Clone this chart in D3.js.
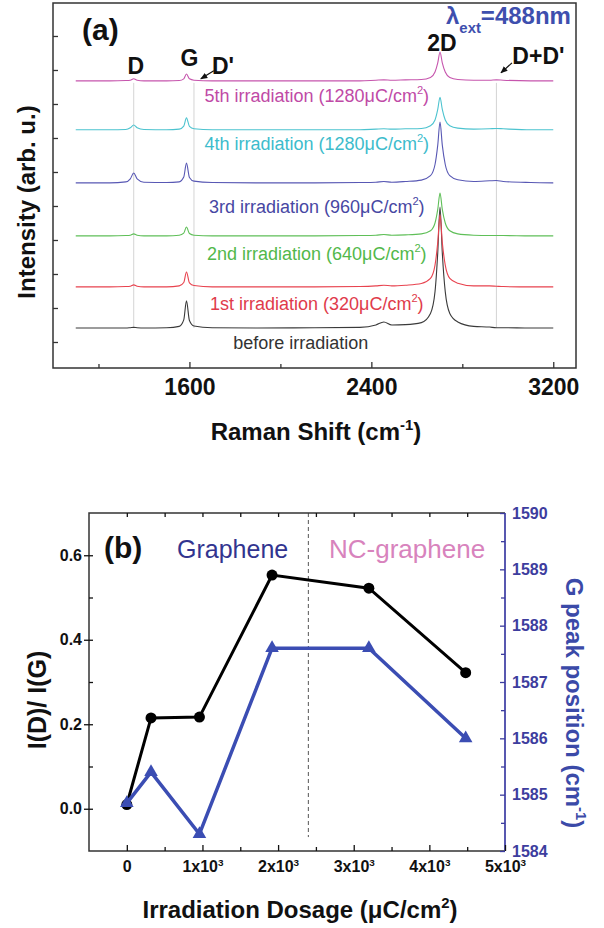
<!DOCTYPE html>
<html>
<head>
<meta charset="utf-8">
<script src="https://cdn.jsdelivr.net/npm/d3@7"></script>
<style>
  body { margin: 0; background: #fff; }
  svg text { font-family: "Liberation Sans", Arial, sans-serif; }
</style>
</head>
<body>
<div id="chart"></div>
<script>
// ---- panel (a): Raman spectra (arb. units) ----
const ramanShift = [1100, 1250, 1320, 1340, 1355, 1370, 1400, 1500, 1555, 1575, 1587, 1600, 1620, 1700,
    1900, 2150, 2350, 2420, 2455, 2490, 2550, 2620, 2660, 2680, 2692, 2702, 2712, 2725, 2745, 2780,
    2850, 2920, 2950, 2980, 3100, 3200];

const specBefore = [0.41, 0.41, 0.41, 0.42, 0.43, 0.42, 0.41, 0.42, 0.46, 0.65, 1.21, 0.63, 0.47, 0.42,
    0.41, 0.42, 0.43, 0.50, 0.59, 0.50, 0.51, 0.57, 0.84, 1.48, 2.62, 3.97, 2.62, 1.48, 0.84, 0.59,
    0.46, 0.44, 0.42, 0.42, 0.41, 0.41];
const spec1st = [1.62, 1.62, 1.63, 1.64, 1.68, 1.64, 1.62, 1.62, 1.65, 1.75, 2.06, 1.74, 1.66, 1.62,
    1.62, 1.62, 1.63, 1.65, 1.67, 1.65, 1.67, 1.72, 1.87, 2.26, 2.93, 3.74, 2.93, 2.26, 1.87, 1.73,
    1.65, 1.65, 1.64, 1.63, 1.62, 1.62];
const spec2nd = [3.12, 3.12, 3.13, 3.14, 3.18, 3.14, 3.12, 3.12, 3.14, 3.20, 3.38, 3.19, 3.14, 3.12,
    3.12, 3.12, 3.13, 3.14, 3.16, 3.14, 3.15, 3.18, 3.27, 3.50, 3.90, 4.38, 3.90, 3.50, 3.27, 3.18,
    3.14, 3.13, 3.13, 3.13, 3.12, 3.12];
const spec3rd = [4.68, 4.68, 4.71, 4.80, 4.97, 4.80, 4.70, 4.69, 4.71, 4.85, 5.26, 4.84, 4.73, 4.69,
    4.68, 4.68, 4.69, 4.70, 4.72, 4.70, 4.72, 4.76, 4.89, 5.22, 5.79, 6.47, 5.79, 5.22, 4.89, 4.77,
    4.72, 4.74, 4.75, 4.72, 4.69, 4.68];
const spec4th = [6.24, 6.24, 6.25, 6.30, 6.38, 6.30, 6.25, 6.24, 6.26, 6.35, 6.59, 6.34, 6.27, 6.24,
    6.24, 6.24, 6.24, 6.26, 6.27, 6.26, 6.27, 6.28, 6.36, 6.53, 6.84, 7.20, 6.84, 6.53, 6.36, 6.29,
    6.26, 6.27, 6.28, 6.27, 6.24, 6.24];
const spec5th = [7.68, 7.68, 7.69, 7.70, 7.74, 7.70, 7.68, 7.68, 7.69, 7.74, 7.88, 7.74, 7.70, 7.68,
    7.68, 7.68, 7.68, 7.70, 7.71, 7.70, 7.71, 7.72, 7.78, 7.94, 8.21, 8.53, 8.21, 7.94, 7.78, 7.72,
    7.70, 7.70, 7.71, 7.70, 7.68, 7.68];

const spectra = [specBefore, spec1st, spec2nd, spec3rd, spec4th, spec5th];
const spectrumNames = ["before irradiation", "1st irradiation (320", "2nd irradiation (640",
    "3rd irradiation (960", "4th irradiation (1280", "5th irradiation (1280"];

const peakNames = ["D", "G", "D'", "2D", "D+D'"];
const peakShifts = [1355, 1587, 1620, 2702, 2950];
const guideShifts = [1355, 1620, 2950];

const xTicksA = [1600, 2400, 3200];
const xMinorA = [1200, 2000, 2800];
const yTicksA = [0, 1, 2, 3, 4, 5, 6, 7, 8, 9];

// ---- panel (b): ratio and G peak position vs dosage ----
const dosage = [0, 320, 960, 1920, 3200, 4480];
const ratioDG = [0.01, 0.215, 0.217, 0.553, 0.522, 0.322];
const gPeak = [1584.85, 1585.4, 1584.3, 1587.6, 1587.6, 1586.0];
const boundaryDose = 2400;

const xTicksB = [0, 1000, 2000, 3000, 4000, 5000];
const xMinorB = [500, 1500, 2500, 3500, 4500];
const yTicksB = [0.0, 0.2, 0.4, 0.6];
const yMinorB = [0.0, 0.1, 0.2, 0.3, 0.4, 0.5, 0.6];
const gTicks = [1584, 1585, 1586, 1587, 1588, 1589, 1590];
const gMinor = [1584.5, 1585.5, 1586.5, 1587.5, 1588.5, 1589.5];

// ---------------------------------------------------------------------------
const svg = d3.select("#chart").append("svg")
    .attr("width", 604)
    .attr("height", 928);

// adds tspans, parts: [text, "sup" | "sub" | null]
function rich(textSel, parts, size) {
    let shift = 0;
    parts.forEach(([t, kind]) => {
        const span = textSel.append("tspan").text(t);
        let target = 0;
        if (kind === "sup") target = -size * 0.42;
        if (kind === "sub") target = size * 0.38;
        if (target - shift !== 0) span.attr("dy", target - shift);
        if (kind) span.attr("font-size", size * 0.62);
        shift = target;
    });
    return textSel;
}

// ================= panel (a) =================
const xA = d3.scaleLinear().domain([1000, 3300]).range([53, 576]);
const yA = d3.scaleLinear().domain([-0.765, 9.97]).range([368, 3]);

const gA = svg.append("g");

// faint guide lines at D, D', D+D'
gA.selectAll(".guide")
    .data(guideShifts)
    .enter().append("line")
    .attr("x1", d => xA(d)).attr("x2", d => xA(d))
    .attr("y1", yA(spec5th[0]) + 2)
    .attr("y2", yA(specBefore[0]))
    .attr("stroke", "#d4d4d4")
    .attr("stroke-width", 1);

const specColors = ["#3a3a3a", "#e8434f", "#5fbf58", "#5858b4", "#4cc3cf", "#c655ad"];
const labelColors = ["#333333", "#e03b4b", "#52b84b", "#4747a3", "#3dbccc", "#c04aa6"];
const labelOffset = [21, 23, 24, 30, 20, 21];

const specLine = d3.line()
    .x((d, i) => xA(ramanShift[i]))
    .y(d => yA(d))
    .curve(d3.curveMonotoneX);

gA.selectAll(".spec")
    .data(spectra)
    .enter().append("path")
    .attr("d", specLine)
    .attr("fill", "none")
    .attr("stroke", (d, i) => specColors[i])
    .attr("stroke-width", 1.1);

// spectrum labels
spectra.forEach((s, i) => {
    const t = gA.append("text")
        .attr("x", i === 0 ? xA(2090) : xA(2160))
        .attr("y", yA(s[0]) + labelOffset[i])
        .attr("text-anchor", "middle")
        .attr("font-size", 18)
        .attr("fill", labelColors[i]);
    if (i === 0) t.text(spectrumNames[i]);
    else rich(t, [[spectrumNames[i] + "\u03bcC/cm", null], ["2", "sup"], [")", null]], 18);
});

// peak labels
const peakLabelY = [yA(spec5th[0]) - 7, yA(spec5th[10]) - 8, yA(spec5th[0]) - 7, yA(spec5th[25]) - 1, yA(spec5th[0]) - 17];
const peakLabelDx = [2, 3, 18, 2, 42];
peakNames.forEach((p, i) => {
    gA.append("text")
        .attr("x", xA(peakShifts[i]) + peakLabelDx[i])
        .attr("y", peakLabelY[i])
        .attr("text-anchor", i === 2 ? "start" : "middle")
        .attr("font-size", 23)
        .attr("font-weight", "bold")
        .attr("fill", "#111")
        .text(p);
});

// small arrows for D' and D+D'
svg.append("defs").append("marker")
    .attr("id", "arrow")
    .attr("viewBox", "0 0 10 10")
    .attr("refX", 9).attr("refY", 5)
    .attr("markerWidth", 6).attr("markerHeight", 6)
    .attr("orient", "auto")
    .append("path")
    .attr("d", "M0,1 L10,5 L0,9 Z")
    .attr("fill", "#111");

const arrows = [
    { x: xA(1650), y: yA(spec5th[0]) - 2, dx: 13, dy: -8 },
    { x: xA(2970), y: yA(spec5th[0]) - 8, dx: 11, dy: -10 }
];
gA.selectAll(".arr")
    .data(arrows)
    .enter().append("line")
    .attr("x1", d => d.x + d.dx).attr("y1", d => d.y + d.dy)
    .attr("x2", d => d.x).attr("y2", d => d.y)
    .attr("stroke", "#111")
    .attr("stroke-width", 1.2)
    .attr("marker-end", "url(#arrow)");

// frame + axes
gA.append("rect")
    .attr("x", 53).attr("y", 3)
    .attr("width", 523).attr("height", 365)
    .attr("fill", "none")
    .attr("stroke", "#333")
    .attr("stroke-width", 1.5);

const axA = gA.append("g")
    .attr("transform", "translate(0,368)")
    .call(d3.axisBottom(xA).tickValues(xTicksA).tickSizeInner(-6).tickSizeOuter(0).tickPadding(11)
        .tickFormat(d3.format("d")));
axA.select(".domain").remove();
axA.selectAll("text").attr("font-size", 23).attr("font-weight", "bold").attr("fill", "#111")
    .style("font-family", '"Liberation Sans", Arial, sans-serif');
axA.selectAll("line").attr("stroke", "#333").attr("stroke-width", 1.3);

const axAm = gA.append("g")
    .attr("transform", "translate(0,368)")
    .call(d3.axisBottom(xA).tickValues(xMinorA).tickSize(-4).tickFormat(""));
axAm.select(".domain").remove();
axAm.selectAll("line").attr("stroke", "#333").attr("stroke-width", 1.3);

const ayA = gA.append("g")
    .attr("transform", "translate(53,0)")
    .call(d3.axisLeft(yA).tickValues(yTicksA).tickSize(-5).tickFormat(""));
ayA.select(".domain").remove();
ayA.selectAll("line").attr("stroke", "#333").attr("stroke-width", 1.3);

gA.append("text")
    .attr("transform", "translate(35,202) rotate(-90)")
    .attr("text-anchor", "middle")
    .attr("font-size", 24).attr("font-weight", "bold").attr("fill", "#111")
    .text("Intensity (arb. u.)");

rich(gA.append("text")
    .attr("x", 316).attr("y", 440)
    .attr("text-anchor", "middle")
    .attr("font-size", 24).attr("font-weight", "bold").attr("fill", "#111"),
    [["Raman Shift (cm", null], ["-1", "sup"], [")", null]], 24);

gA.append("text")
    .attr("x", 82).attr("y", 40)
    .attr("font-size", 30).attr("font-weight", "bold").attr("fill", "#111")
    .text("(a)");

rich(gA.append("text")
    .attr("x", 446).attr("y", 24)
    .attr("font-size", 24).attr("font-weight", "bold").attr("fill", "#3e4fae"),
    [["\u03bb", null], ["ext", "sub"], ["=488nm", null]], 24);

// ================= panel (b) =================
const xB = d3.scaleLinear().domain([-500, 5000]).range([89, 505]);
const yB = d3.scaleLinear().domain([-0.1, 0.7]).range([851, 513]);
const yG = d3.scaleLinear().domain([1584, 1590]).range([851, 513]);

const gB = svg.append("g");

// boundary graphene / NC-graphene
gB.append("line")
    .attr("x1", xB(boundaryDose)).attr("x2", xB(boundaryDose))
    .attr("y1", yB(0.7)).attr("y2", yB(-0.067))
    .attr("stroke", "#555")
    .attr("stroke-width", 1)
    .attr("stroke-dasharray", "4,3");

gB.append("text")
    .attr("x", 177).attr("y", 558)
    .attr("font-size", 25).attr("fill", "#32348f")
    .text("Graphene");
gB.append("text")
    .attr("x", 329).attr("y", 558)
    .attr("font-size", 26).attr("fill", "#d883bd")
    .text("NC-graphene");
gB.append("text")
    .attr("x", 104).attr("y", 558)
    .attr("font-size", 30).attr("font-weight", "bold").attr("fill", "#111")
    .text("(b)");

// series
const ptsR = dosage.map((d, i) => [d, ratioDG[i]]);
const ptsG = dosage.map((d, i) => [d, gPeak[i]]);

gB.append("path")
    .datum(ptsR)
    .attr("d", d3.line().x(d => xB(d[0])).y(d => yB(d[1])))
    .attr("fill", "none")
    .attr("stroke", "#000")
    .attr("stroke-width", 3);
gB.selectAll(".dot")
    .data(ptsR)
    .enter().append("circle")
    .attr("cx", d => xB(d[0])).attr("cy", d => yB(d[1]))
    .attr("r", 5.5)
    .attr("fill", "#000");

gB.append("path")
    .datum(ptsG)
    .attr("d", d3.line().x(d => xB(d[0])).y(d => yG(d[1])))
    .attr("fill", "none")
    .attr("stroke", "#3b4db3")
    .attr("stroke-width", 3.5);
gB.selectAll(".tri")
    .data(ptsG)
    .enter().append("path")
    .attr("transform", d => `translate(${xB(d[0])},${yG(d[1])})`)
    .attr("d", d3.symbol(d3.symbolTriangle).size(80))
    .attr("fill", "#3b4db3");

// frame
gB.append("path")
    .attr("d", `M${xB(5000)},${yB(0.7)}H${xB(-500)}V${yB(-0.1)}H${xB(5000)}`)
    .attr("fill", "none")
    .attr("stroke", "#333")
    .attr("stroke-width", 1.5);
gB.append("line")
    .attr("x1", xB(5000)).attr("x2", xB(5000))
    .attr("y1", yG(1590)).attr("y2", yG(1584))
    .attr("stroke", "#4646a8")
    .attr("stroke-width", 1.8);

function styleTicks(sel, color) {
    sel.select(".domain").remove();
    sel.selectAll("line").attr("stroke", color).attr("stroke-width", 1.3);
    sel.selectAll("text")
        .attr("font-size", 16).attr("font-weight", "bold").attr("fill", color)
        .style("font-family", '"Liberation Sans", Arial, sans-serif');
}

// bottom axis with 1x10^3 labels
const axB = gB.append("g")
    .attr("transform", `translate(0,${yB(-0.1)})`)
    .call(d3.axisBottom(xB).tickValues(xTicksB).tickSizeInner(-6).tickSizeOuter(0).tickPadding(10));
styleTicks(axB, "#111");
axB.selectAll(".tick text").each(function (d) {
    const t = d3.select(this).text("");
    if (d === 0) t.text("0");
    else rich(t, [[`${d / 1000}x10`, null], ["3", "sup"]], 16);
});
styleTicks(gB.append("g")
    .attr("transform", `translate(0,${yB(-0.1)})`)
    .call(d3.axisBottom(xB).tickValues(xMinorB).tickSize(-4).tickFormat("")), "#111");

// top ticks
styleTicks(gB.append("g")
    .attr("transform", `translate(0,${yB(0.7)})`)
    .call(d3.axisTop(xB).tickValues(xTicksB.concat(xMinorB).filter(d => d < 5000)).tickSize(-4).tickFormat("")), "#111");

// left axis
styleTicks(gB.append("g")
    .attr("transform", `translate(${xB(-500)},0)`)
    .call(d3.axisLeft(yB).tickValues(yMinorB).tickSize(-4).tickFormat("")), "#111");
styleTicks(gB.append("g")
    .attr("transform", `translate(${xB(-500)},0)`)
    .call(d3.axisLeft(yB).tickValues(yTicksB).tickSizeInner(5).tickSizeOuter(0).tickPadding(2)
        .tickFormat(d3.format(".1f"))), "#111");

// right axis
styleTicks(gB.append("g")
    .attr("transform", `translate(${xB(5000)},0)`)
    .call(d3.axisRight(yG).tickValues(gTicks).tickSizeInner(-5).tickSizeOuter(0).tickPadding(7)
        .tickFormat(d3.format("d"))), "#3d3d9e");
styleTicks(gB.append("g")
    .attr("transform", `translate(${xB(5000)},0)`)
    .call(d3.axisRight(yG).tickValues(gMinor).tickSize(-4).tickFormat("")), "#3d3d9e");

// titles
gB.append("text")
    .attr("transform", "translate(46,700) rotate(-90)")
    .attr("text-anchor", "middle")
    .attr("font-size", 25).attr("font-weight", "bold").attr("fill", "#111")
    .text("I(D)/ I(G)");

rich(gB.append("text")
    .attr("transform", "translate(566,703) rotate(90)")
    .attr("text-anchor", "middle")
    .attr("font-size", 24).attr("font-weight", "bold").attr("fill", "#3b4aa8"),
    [["G peak position (cm", null], ["-1", "sup"], [")", null]], 24);

rich(gB.append("text")
    .attr("x", 300).attr("y", 918)
    .attr("text-anchor", "middle")
    .attr("font-size", 24).attr("font-weight", "bold").attr("fill", "#111"),
    [["Irradiation Dosage (\u03bcC/cm", null], ["2", "sup"], [")", null]], 24);
</script>
</body>
</html>
